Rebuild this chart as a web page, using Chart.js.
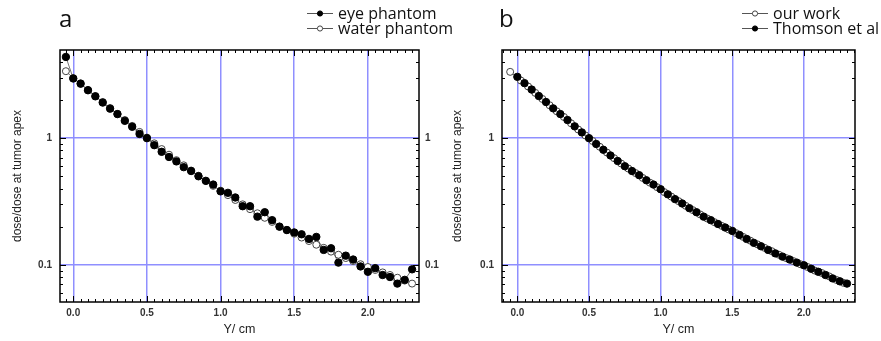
<!DOCTYPE html>
<html>
<head>
<meta charset="utf-8">
<script src="https://cdn.jsdelivr.net/npm/chart.js@4.4.0/dist/chart.umd.min.js"></script>
<style>
  html, body { margin: 0; padding: 0; background: #fff; }
  #wrap { position: relative; width: 881px; height: 341px; }
  .panel { position: absolute; top: 0; height: 341px; }
  #panelA { left: 0; width: 470px; z-index: 1; }
  #panelB { left: 440px; width: 441px; z-index: 2; }
</style>
</head>
<body>
<div id="wrap">
  <div class="panel" id="panelA"><canvas id="chartA"></canvas></div>
  <div class="panel" id="panelB"><canvas id="chartB"></canvas></div>
</div>
<script>
// panel a: eye phantom vs water phantom
const xPhantom = [-0.05, 0.00, 0.05, 0.10, 0.15, 0.20, 0.25, 0.30, 0.35, 0.40, 0.45, 0.50,
  0.55, 0.60, 0.65, 0.70, 0.75, 0.80, 0.85, 0.90, 0.95, 1.00, 1.05, 1.10, 1.15, 1.20,
  1.25, 1.30, 1.35, 1.40, 1.45, 1.50, 1.55, 1.60, 1.65, 1.70, 1.75, 1.80, 1.85, 1.90,
  1.95, 2.00, 2.05, 2.10, 2.15, 2.20, 2.25, 2.30];
const eyePhantom = [4.38, 2.96, 2.70, 2.39, 2.14, 1.91, 1.71, 1.55, 1.37, 1.23, 1.08, 1.00,
  0.88, 0.78, 0.71, 0.655, 0.59, 0.55, 0.50, 0.46, 0.43, 0.38, 0.37, 0.34, 0.29, 0.29,
  0.24, 0.26, 0.225, 0.20, 0.188, 0.180, 0.174, 0.160, 0.166, 0.131, 0.135, 0.104, 0.118, 0.110,
  0.097, 0.088, 0.094, 0.083, 0.080, 0.071, 0.076, 0.092];
const waterPhantom = [3.38, 2.98, 2.68, 2.40, 2.15, 1.93, 1.73, 1.55, 1.39, 1.25, 1.12, 1.01,
  0.91, 0.82, 0.74, 0.67, 0.61, 0.555, 0.505, 0.46, 0.42, 0.385, 0.355, 0.325, 0.30, 0.275,
  0.255, 0.235, 0.218, 0.20, 0.188, 0.176, 0.164, 0.154, 0.144, 0.136, 0.127, 0.120, 0.113, 0.107,
  0.101, 0.096, 0.091, 0.087, 0.083, 0.079, 0.075, 0.071];

// panel b: our work vs Thomson et al
const xOurWork = [-0.05, 0.025, 0.075, 0.125, 0.175, 0.225, 0.275, 0.325, 0.375, 0.425, 0.475,
  0.525, 0.575, 0.625, 0.675, 0.725, 0.775, 0.825, 0.875, 0.925, 0.975, 1.025, 1.075,
  1.125, 1.175, 1.225, 1.275, 1.325, 1.375, 1.425, 1.475, 1.525, 1.575, 1.625, 1.675,
  1.725, 1.775, 1.825, 1.875, 1.925, 1.975, 2.025, 2.075, 2.125, 2.175, 2.225, 2.275];
const ourWork = [3.34, 2.85, 2.56, 2.28, 2.04, 1.82, 1.63, 1.47, 1.31, 1.17, 1.05,
  0.95, 0.855, 0.77, 0.695, 0.63, 0.575, 0.53, 0.485, 0.445, 0.41, 0.375, 0.345,
  0.318, 0.292, 0.27, 0.25, 0.232, 0.217, 0.203, 0.19, 0.178, 0.166, 0.155, 0.145,
  0.136, 0.128, 0.12, 0.113, 0.107, 0.101, 0.096, 0.09, 0.086, 0.081, 0.076, 0.072];
const xThomson = [0.00, 0.05, 0.10, 0.15, 0.20, 0.25, 0.30, 0.35, 0.40, 0.45, 0.50,
  0.55, 0.60, 0.65, 0.70, 0.75, 0.80, 0.85, 0.90, 0.95, 1.00, 1.05, 1.10, 1.15, 1.20,
  1.25, 1.30, 1.35, 1.40, 1.45, 1.50, 1.55, 1.60, 1.65, 1.70, 1.75, 1.80, 1.85, 1.90,
  1.95, 2.00, 2.05, 2.10, 2.15, 2.20, 2.25, 2.30];
const thomson = [3.05, 2.72, 2.42, 2.15, 1.93, 1.72, 1.55, 1.39, 1.24, 1.11, 1.00,
  0.90, 0.81, 0.73, 0.66, 0.60, 0.55, 0.51, 0.465, 0.43, 0.395, 0.36, 0.33, 0.305, 0.28,
  0.26, 0.24, 0.225, 0.21, 0.197, 0.185, 0.172, 0.16, 0.149, 0.14, 0.131, 0.123, 0.116, 0.110,
  0.104, 0.099, 0.093, 0.088, 0.083, 0.078, 0.074, 0.071];

const xTicks = [0, 0.5, 1.0, 1.5, 2.0];
const yTicks = [0.1, 1];
const xTitle = 'Y/ cm';
const yTitle = 'dose/dose at tumor apex';

const gridBlue = '#8f8fff';
const tickFont = { family: 'Liberation Sans', size: 10, weight: 'bold' };

function toPoints(xs, ys) {
  return xs.map(function (x, i) { return { x: x, y: ys[i] }; });
}

function filledSet(label, xs, ys, order) {
  return {
    label: label, data: toPoints(xs, ys), order: order, showLine: true,
    borderColor: '#555', borderWidth: 0.8,
    pointBackgroundColor: '#000', pointBorderColor: '#000', pointBorderWidth: 1,
    pointRadius: 3.7
  };
}

function openSet(label, xs, ys, order) {
  return {
    label: label, data: toPoints(xs, ys), order: order, showLine: true,
    borderColor: '#555', borderWidth: 0.8,
    pointBackgroundColor: '#fff', pointBorderColor: '#444', pointBorderWidth: 1,
    pointRadius: 3.5
  };
}

// frame, inward ticks, panel letter and legend
const panelDeco = {
  id: 'panelDeco',
  afterDraw: function (chart, args, opts) {
    const ctx = chart.ctx;
    const a = chart.chartArea;
    const xs = chart.scales.x, ys = chart.scales.y;
    ctx.save();
    ctx.strokeStyle = '#000';
    ctx.lineWidth = 1;
    ctx.beginPath();
    for (let k = Math.ceil(xs.min / 0.05); k * 0.05 <= xs.max; k++) {
      const px = Math.round(xs.getPixelForValue(k * 0.05)) + 0.5;
      const len = (k % 10 === 0) ? 6 : 3;
      ctx.moveTo(px, a.bottom); ctx.lineTo(px, a.bottom - len);
      ctx.moveTo(px, a.top); ctx.lineTo(px, a.top + len);
    }
    [0.01, 0.1, 1].forEach(function (d) {
      for (let m = 1; m <= 9; m++) {
        const v = m * d;
        if (v < ys.min || v > ys.max) continue;
        const py = Math.round(ys.getPixelForValue(v)) + 0.5;
        const len = (m === 1) ? 6 : 3;
        ctx.moveTo(a.left, py); ctx.lineTo(a.left + len, py);
        ctx.moveTo(a.right, py); ctx.lineTo(a.right - len, py);
      }
    });
    ctx.stroke();
    ctx.lineWidth = 1.5;
    ctx.strokeRect(a.left, a.top, a.right - a.left, a.bottom - a.top);

    // panel letter
    ctx.fillStyle = '#111';
    ctx.font = '24px "Open Sans"';
    ctx.textBaseline = 'alphabetic';
    ctx.textAlign = 'left';
    ctx.fillText(opts.letter, opts.letterX, 27);

    // legend
    const sets = chart.data.datasets;
    ctx.font = '16px "Open Sans"';
    ctx.textBaseline = 'middle';
    opts.legendOrder.forEach(function (idx, row) {
      const ds = sets[idx];
      const y = 13 + row * 15;
      ctx.strokeStyle = '#555';
      ctx.lineWidth = 1;
      ctx.beginPath();
      ctx.moveTo(opts.legendX, y + 0.5); ctx.lineTo(opts.legendX + 26, y + 0.5);
      ctx.stroke();
      ctx.beginPath();
      ctx.arc(opts.legendX + 13, y + 0.5, 2.6, 0, Math.PI * 2);
      ctx.fillStyle = ds.pointBackgroundColor;
      ctx.fill();
      ctx.strokeStyle = ds.pointBorderColor;
      ctx.stroke();
      ctx.fillStyle = '#111';
      ctx.fillText(ds.label, opts.legendX + 31, y + 1);
    });
    ctx.restore();
  }
};

function yAxis(position, width, showLabels, pad) {
  return {
    type: 'logarithmic', position: position, min: 0.0508, max: 4.97,
    afterBuildTicks: function (s) { s.ticks = yTicks.map(function (v) { return { value: v }; }); },
    afterFit: function (s) { s.width = width; },
    grid: { display: position === 'left', color: gridBlue, lineWidth: 1.5, drawTicks: false },
    border: { display: false },
    ticks: { display: showLabels, font: tickFont, color: '#333', padding: pad,
      callback: function (v) { return String(v); } },
    title: { display: position === 'left', text: yTitle, color: '#222',
      font: { family: 'Liberation Sans', size: 12 }, padding: { top: 10, bottom: 0 } }
  };
}

function xAxis(min, max) {
  return {
    type: 'linear', position: 'bottom', min: min, max: max,
    afterBuildTicks: function (s) { s.ticks = xTicks.map(function (v) { return { value: v }; }); },
    afterFit: function (s) { s.height = 39; },
    grid: { color: gridBlue, lineWidth: 1.5, drawTicks: false },
    border: { display: false },
    ticks: { font: tickFont, color: '#333', padding: 5, maxRotation: 0, autoSkip: false,
      callback: function (v) { return Number(v).toFixed(1); } },
    title: { display: true, text: xTitle, color: '#222',
      font: { family: 'Liberation Sans', size: 12.5 }, padding: { top: 0, bottom: 4 } }
  };
}

function makeChart(id, datasets, scales, padding, deco) {
  return new Chart(document.getElementById(id).getContext('2d'), {
    type: 'scatter',
    data: { datasets: datasets },
    options: {
      responsive: true, maintainAspectRatio: false, animation: false, devicePixelRatio: 1,
      layout: { padding: padding },
      plugins: { legend: { display: false }, tooltip: { enabled: false }, panelDeco: deco },
      scales: scales
    },
    plugins: [panelDeco]
  });
}

// canvas a is 470 wide so its legend can run past the panel edge
makeChart('chartA',
  [filledSet('eye phantom', xPhantom, eyePhantom, 0), openSet('water phantom', xPhantom, waterPhantom, 1)],
  { x: xAxis(-0.090, 2.347), y: yAxis('left', 60, true, 8), y2: yAxis('right', 21, true, 6) },
  { top: 50, right: 30, left: 0, bottom: 0 },
  { letter: 'a', letterX: 59, legendX: 307, legendOrder: [0, 1] });

makeChart('chartB',
  [openSet('our work', xOurWork, ourWork, 1), filledSet('Thomson et al', xThomson, thomson, 0)],
  { x: xAxis(-0.107, 2.356), y: yAxis('left', 62, true, 8) },
  { top: 50, right: 26, left: 0, bottom: 0 },
  { letter: 'b', letterX: 59, legendX: 302, legendOrder: [0, 1] });
</script>
</body>
</html>
